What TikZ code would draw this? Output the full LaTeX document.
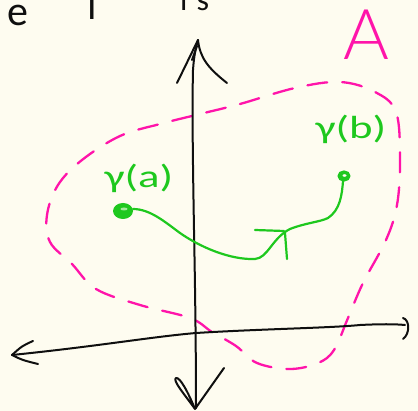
\documentclass[tikz,border=0pt]{standalone}
\usepackage{fontspec}
\newfontfamily\handfont{Carlito}
\IfFontExistsTF{Lato Light}{\newfontfamily\handthin{Lato Light}\def\Asize{70}}{%
  \IfFontExistsTF{Fira Sans Light}{\newfontfamily\handthin{Fira Sans Light}\def\Asize{72}}{%
    \newfontfamily\handthin{Carlito}\def\Asize{78}}}
\definecolor{paper}{RGB}{254,252,240}
\definecolor{pen}{RGB}{15,15,15}
\definecolor{pgreen}{RGB}{30,200,30}
\definecolor{pmag}{RGB}{255,20,170}
\begin{document}
\begin{tikzpicture}[x=1pt,y=-1pt,
  ink/.style={line width=2pt,line cap=round,line join=round,draw=pen},
  greenink/.style={line width=2.2pt,line cap=round,line join=round,draw=pgreen},
  magdash/.style={line width=2.3pt,line cap=round,draw=pmag,dash pattern=on 20pt off 15pt},
  lbl/.style={inner sep=0pt,anchor=base}]
\fill[paper] (0,0) rectangle (418,411);
\useasboundingbox (0,0) rectangle (418,411);
\clip (0,0) rectangle (418,411);

% cut-off handwriting at the top
\node[lbl,anchor=base east,text=pen,font=\handfont\fontsize{42}{42}\selectfont] (w1) at (29,26) {a\kern11pt e};
\node[lbl,text=pen,font=\handfont\fontsize{38}{38}\selectfont] (w2) at (92,20) {T};
\node[lbl,anchor=base west,text=pen,font=\handfont\fontsize{32}{32}\selectfont] (w3) at (180,11) {i\hspace{9pt}s};

% set A
\node[lbl,text=pmag,font=\handthin\fontsize{\Asize}{\Asize}\selectfont] (setA) at (366,60) {A};
\draw[magdash] plot[smooth cycle,tension=0.6] coordinates {
 (200,114) (240,104) (295,88) (340,82) (375,92) (396,112) (400,160)
 (397,205) (386,240) (363,283) (348,318) (334,350) (318,363) (290,369)
 (257,363) (236,346) (212,332) (190,318) (140,305) (96,289) (72,264)
 (50,242) (47,215) (58,185) (82,160) (120,136) (160,124)};

% axes
\draw[ink] (12,355) .. controls (100,346) and (150,337) .. (196,333)
  .. controls (260,329) and (330,328) .. (360,325)
  .. controls (380,324) and (395,324) .. (405,325);
\draw[ink] (403,318) .. controls (410,320) and (410,334) .. (403,339);
\draw[ink] (33,341) .. controls (22,346) .. (12,355) .. controls (22,360) .. (38,364);
\draw[ink] (196,408) .. controls (196,350) and (195,280) .. (194,230)
  .. controls (193,170) and (192,110) .. (193,70)
  .. controls (194,55) and (196,47) .. (198,40);
\draw[ink] (177,83) -- (198,40) .. controls (200,58) and (208,68) .. (227,83);
\draw[ink] (192,60) -- (197,46);
\draw[ink] (224,368) -- (195,409) .. controls (185,395) and (172,380) .. (176,378)
  .. controls (180,377) and (188,392) .. (195,409);

% path gamma
\coordinate (ga) at (123,211);
\coordinate (gb) at (344,176);
\fill[pgreen] (ga) ellipse [x radius=10, y radius=8];
\fill[paper!60!pgreen] (124,209) ellipse [x radius=3.5, y radius=1.5];
\draw[greenink,fill=pgreen] (gb) ellipse [x radius=5.5, y radius=4.5];
\fill[paper] (344.5,175.5) ellipse [x radius=2, y radius=1.3];
\draw[greenink] (133,209) .. controls (150,209) and (165,222) .. (180,233)
  .. controls (200,247) and (230,260) .. (255,259)
  .. controls (268,258) and (272,238) .. (290,229)
  .. controls (305,223) and (320,222) .. (328,218)
  .. controls (340,210) and (342,195) .. (343,181);
\draw[greenink] (255,230) -- (284,231);
\draw[greenink] (285,233) -- (287,259);
\node[lbl,text=pgreen,font=\handfont\fontsize{32}{32}\selectfont] (la) at (139,188) {\scalebox{1.4}[1]{γ(a)}};
\node[lbl,text=pgreen,font=\handfont\fontsize{32}{32}\selectfont] (lb) at (351,139) {\scalebox{1.4}[1]{γ(b)}};
\end{tikzpicture}
\end{document}
